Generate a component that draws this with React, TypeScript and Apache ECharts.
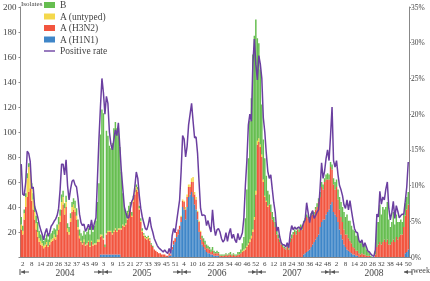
import React, { useEffect, useRef } from "react";
import * as echarts from "echarts";

// Week tick labels (one every 6 weeks, starting at the 2nd week of 2004)
const weekTickLabels = [
  "2", "8", "14", "20", "26", "32", "37", "43", "49",
  "3", "9", "15", "21", "27", "33", "39", "45", "51",
  "4", "10", "16", "22", "28", "34", "40", "46", "52",
  "6", "12", "18", "24", "30", "36", "42", "48",
  "2", "8", "14", "20", "26", "32", "38", "44", "50",
];
const yearLabels = ["2004", "2005", "2006", "2007", "2008"];

// Weekly isolates (2004 week 1 .. 2008 week ~51)
const h1n1 = [
  0,0,0,0,0,0,0,0,0,0, 0,0,0,0,0,0,0,0,0,0, 0,0,0,0,0,0,0,0,0,0, 0,0,0,0,0,0,0,0,0,0, 0,0,0,0,0,0,0,0,0,0, 0,0,0,
  2,2,2,2,2,2,2,2,2,2, 2,2,2,2,
  0,0,0,0,0,0,0,0,0,0, 0,0,0,0,0,0,0,0,0,0, 0,0,0,0,0,0,0,0,0,0, 0,0,
  1,1,6,10,12,16,18,22,
  28,40,38,30,40,48,50,52,48,42, 38,30,20,14,10,8,6,4,3,3, 2,2,1,1,1,1,
  0,0,0,0,0,0,0,0,0,0, 0,0,0,0,0,0,0,0,0,0, 0,0,0,0,0,0,0,0,0,0, 0,0,0,0,0,0,0,0,0,0, 0,0,0,0,0,0,0,0,0,0, 0,0,0,0,0,0,
  2,3,4,5,6,8,10,12,14,16, 18,24,28,30,30,34,36,38,42,44, 36,34,32,28,22,18,14,10,8,6, 5,4,3,2,2,1,1,
  0,0,0,0,0,0,0,0,0,0, 0,0,0,0,0,0,0,0,0,0, 0,0,0,0,0,0,0,0,0,0, 0,
  3,4,6,
];
const h3n2 = [
  22,18,30,40,48,52,55,45,38,30, 22,16,12,10,9,7,8,10,8,10, 12,13,15,14,18,22,28,38,42,34, 40,20,18,28,36,38,36,30,22,15, 12,10,12,9,10,12,8,12,9,10, 10,12,12,
  14,15,12,6,16,18,18,18,16,18, 20,18,20,20,22,25,24,26,30,34, 38,32,44,50,54,52,38,28,20,17, 15,14,15,13,10,8,6,5,4,3, 3,2,2,2,1,1,2,1,2,3, 3,4,4,3,
  4,5,6,8,8,8,6,8,12,8, 8,6,8,6,5,4,4,3,4,3, 2,3,2,2,2,2,1,1,1,1, 2,1,2,2,1,2,1,1,2,2, 3,
  4,5,6,8,10,12,15,20,30,50, 90,92,88,80,60,48,44,40,42,36, 30,28,24,18,15,12,10,8,7,6, 8,6,12,
  15,18,20,18,22,20,24,22,25,26, 28,26,24,25,24,22,24,24,26,24, 28,24,30,28,26,24,30,26,22,20, 24,
  18,16,14,14,12,10,12,10,9,8, 6,5,4,4,3,2,3,2,2,1, 1,1,0,0,0,2,8,10,12,10, 12,14,12,14,10,10,12,14,12,16, 14,16,18,18,24,30,34,36,
];
const untyped = [
  4,3,5,8,15,20,18,10,8,6, 5,4,3,3,2,2,2,2,1,2, 2,2,3,2,3,4,5,6,6,5, 4,3,2,3,4,4,3,3,2,2, 1,1,2,1,1,1,1,1,1,1, 1,2,2,
  2,1,1,0,1,1,1,1,1,1, 1,1,1,
  1,1,1,1,1,1,2,2,1,2, 2,2,2,1,1,
  1,1,1,1,1,1,0,0,0,0, 0,0,0,0,0,0,0,0,0,0, 0,0,0,0,0,0,
  1,1,1,2,2,2,2,3,4,2, 2,1,1,1,
  0,0,0,0,0,0,0,0,0,0, 0,0,0,0,0,0,0,0,0,0, 0,0,0,0,0,0,0,
  1,1,1,1,1,2,2,2,2,3, 3,3,2,2,2,1,1,1,
  0,0,0,0,0,0,0,0,0,0, 0,0,0,0,0,0,0,0,0,0, 0,0,0,0,0,0,0,0,0,0, 0,0,0,0,0,0,0,0,0,0,
  0,0,0,0,0,0,0,0,0,0, 0,0,0,0,0,0,0,0,0,0, 0,0,0,0,0,0,0,0,0,0, 0,0,0,0,0,0,0,0,0,0,
  0,0,0,0,0,0,0,0,0,0, 0,0,0,0,
];
const fluB = [
  6,4,3,3,4,3,2,4,5,5, 6,8,6,5,6,4,5,6,5,6, 5,6,5,6,5,6,5,6,5,4, 5,4,4,4,4,5,6,6,6,5, 6,6,7,8,9,10,9,12,10,14, 18,30,45,
  80,100,100,2,82,76,68,66,72,82, 85,82,80,65,45,25,14,8,6,5, 4,3,3,3,2,2,2,2,2,1, 1,1,1,1,1,1,0,0,0,0, 0,0,0,0,0,0,0,0,0,0, 0,0,0,0,
  0,0,0,0,0,0,0,0,0,0, 0,0,0,0,2,3,3,3,2,2, 2,3,2,1,2,1,1,1,1,1, 1,1,1,2,1,1,1,1,2,2, 3,
  6,10,24,45,68,95,110,140,145,137, 82,76,60,40,32,30,20,12,8,6, 6,4,4,3,3,2,2,2,1,1, 2,1,3,
  3,2,2,3,2,2,2,3,2,2, 2,2,2,2,3,2,2,3,3,4, 4,4,3,4,5,4,4,4,5,6, 6,
  8,10,12,12,14,14,16,14,16,14, 14,14,12,14,10,9,10,7,8,5, 3,2,1,0,0,3,20,18,30,24, 28,24,28,30,20,14,16,22,14,18, 14,12,12,10,10,10,10,10,
];
// Positive rate (%)
const positiveRate = [
  13.0,8.8,8.6,10.5,14.8,14.5,13.4,9.6,9.8,7.0, 6.4,5.6,4.6,3.8,3.2,2.4,3.4,4.0,2.9,3.4, 4.3,4.6,5.0,5.3,5.8,6.8,9.4,13.0,13.0,11.5, 13.6,10.0,8.0,9.5,10.6,10.8,10.1,9.8,8.2,6.0, 4.8,4.4,4.6,3.6,4.0,4.6,3.8,5.2,3.8,4.8, 5.5,11.0,16.5,
  21.0,25.0,23.0,20.0,22.5,21.5,17.5,15.8,15.0,16.5, 17.8,17.0,18.8,15.4,12.0,9.5,7.0,6.2,5.5,5.5, 6.8,7.8,8.2,9.8,11.9,11.0,8.6,6.8,5.6,4.8, 4.0,3.8,4.5,5.6,4.2,3.5,2.6,2.1,1.6,1.3, 1.1,0.9,0.7,1.0,0.7,0.5,1.2,0.5,3.0,4.0, 3.4,5.0,6.5,8.0,
  12.0,17.0,16.5,14.0,15.5,18.5,20.0,21.5,19.0,16.7, 16.8,14.5,10.5,6.8,5.8,5.9,5.8,4.4,5.1,4.2, 3.5,6.6,4.2,3.0,3.8,4.0,3.5,2.6,2.1,2.4, 3.4,2.2,3.3,4.0,2.6,3.2,2.4,2.0,3.3,2.4, 2.8,
  3.4,5.5,10.0,13.5,18.5,20.0,19.0,27.0,30.5,27.0, 24.8,28.2,27.0,25.0,19.5,17.5,14.5,12.0,11.0,11.5, 9.5,7.6,6.2,3.6,4.2,2.8,2.0,1.7,1.7,1.4, 2.0,1.3,3.3,
  4.4,3.8,4.2,3.9,4.1,4.2,3.8,4.2,4.8,5.2, 7.6,6.2,4.8,6.0,6.5,5.4,5.8,6.3,6.6,9.7, 13.2,11.0,12.0,13.8,15.0,13.5,17.0,21.0,13.5,12.6, 13.5,
  11.5,10.0,9.4,8.6,7.3,6.8,8.0,6.6,7.9,6.5, 5.2,4.0,3.5,3.4,2.3,2.0,2.4,1.4,2.0,1.4, 0.8,0.7,0.4,0.2,0.1,1.0,6.0,5.6,9.2,7.4, 8.4,8.0,9.5,10.5,6.8,5.2,6.2,7.8,5.4,7.2, 6.4,5.5,5.8,6.0,6.0,7.8,9.8,13.3,
];

const FONT = "Liberation Serif";
const TXT = "#444";

export default function App() {
  const ref = useRef<HTMLDivElement>(null);
  useEffect(() => {
    if (!ref.current) return;
    const chart = echarts.init(ref.current, null, { renderer: "svg" });
    const n = positiveRate.length;
    const categories = Array.from({ length: n }, (_, i) => "w" + i);

    const yearX = [65, 142, 217, 292, 374];
    const boundaryX = [103, 182, 257, 330];
    const ay = 272;
    const stroke = { stroke: "#555", lineWidth: 1 };
    const fillHead = { fill: "#555" };
    const graphics: any[] = [
      { type: "text", x: 21, y: 0, style: { text: "Isolates", fontSize: 7, fontFamily: FONT, fill: TXT, verticalAlign: "top" } },
      ...yearLabels.map((t, i) => ({
        type: "text", x: yearX[i], y: 273,
        style: { text: t, fontSize: 9.5, fontFamily: FONT, fill: TXT, align: "center", verticalAlign: "middle" },
      })),
      { type: "text", x: 413, y: 270, style: { text: "week", fontSize: 8, fontFamily: FONT, fill: TXT, verticalAlign: "middle" } },
      // start marker
      { type: "line", shape: { x1: 20, y1: ay - 3, x2: 20, y2: ay + 3 }, style: stroke },
      { type: "line", shape: { x1: 21, y1: ay, x2: 29, y2: ay }, style: stroke },
      { type: "polygon", shape: { points: [[21, ay], [25, ay - 2], [25, ay + 2]] }, style: fillHead },
      // end marker
      { type: "line", shape: { x1: 412, y1: ay - 3, x2: 412, y2: ay + 3 }, style: stroke },
      { type: "line", shape: { x1: 404, y1: ay, x2: 412, y2: ay }, style: stroke },
      { type: "polygon", shape: { points: [[404, ay], [408, ay - 2], [408, ay + 2]] }, style: fillHead },
    ];
    boundaryX.forEach((c) => {
      graphics.push(
        { type: "line", shape: { x1: c, y1: ay - 3, x2: c, y2: ay + 3 }, style: stroke },
        { type: "line", shape: { x1: c - 9, y1: ay, x2: c + 9, y2: ay }, style: stroke },
        { type: "polygon", shape: { points: [[c - 1, ay], [c - 5, ay - 2], [c - 5, ay + 2]] }, style: fillHead },
        { type: "polygon", shape: { points: [[c + 1, ay], [c + 5, ay - 2], [c + 5, ay + 2]] }, style: fillHead },
      );
    });

    const barBase = { type: "bar", stack: "total", barCategoryGap: "0%", barGap: "0%", yAxisIndex: 0 };

    chart.setOption({
      animation: false,
      textStyle: { fontFamily: FONT },
      grid: { left: 19, right: 21, top: 7, bottom: 24 },
      legend: {
        orient: "vertical",
        left: 44,
        top: 0,
        padding: 0,
        itemWidth: 11,
        itemHeight: 6,
        itemGap: 1.5,
        textStyle: { fontSize: 9.5, fontFamily: FONT, color: TXT },
        data: [
          { name: "B", icon: "rect" },
          { name: "A (untyped)", icon: "rect" },
          { name: "A (H3N2)", icon: "rect" },
          { name: "A (H1N1)", icon: "rect" },
          { name: "Positive rate", icon: "path://M0,0 L24,0 L24,3 L0,3 Z" },
        ],
      },
      xAxis: {
        type: "category",
        data: categories,
        boundaryGap: true,
        axisLine: { lineStyle: { color: "#888" } },
        axisTick: { show: false },
        axisLabel: {
          interval: (index: number) => index % 6 === 1,
          formatter: (_v: string, index: number) => weekTickLabels[(index - 1) / 6] ?? "",
          fontSize: 7,
          color: TXT,
          margin: 3,
          fontFamily: FONT,
        },
      },
      yAxis: [
        {
          type: "value", min: 0, max: 200, interval: 20,
          splitLine: { show: false },
          axisLine: { show: true, lineStyle: { color: "#888" } },
          axisTick: { show: true, length: 2, lineStyle: { color: "#888" } },
          axisLabel: {
            fontSize: 9, color: TXT, margin: 4, fontFamily: FONT,
            formatter: (v: number) => (v === 0 ? "" : String(v)),
          },
        },
        {
          type: "value", min: 0, max: 35, interval: 5, position: "right",
          splitLine: { show: false },
          axisLine: { show: true, lineStyle: { color: "#888" } },
          axisTick: { show: true, length: 2, lineStyle: { color: "#888" } },
          axisLabel: { fontSize: 7.5, color: TXT, margin: 2, fontFamily: FONT, formatter: "{value}%" },
        },
      ],
      series: [
        { ...barBase, name: "A (H1N1)", data: h1n1, itemStyle: { color: "#3f86c8" } },
        { ...barBase, name: "A (H3N2)", data: h3n2, itemStyle: { color: "#f2553f" } },
        { ...barBase, name: "A (untyped)", data: untyped, itemStyle: { color: "#f4d84c" } },
        { ...barBase, name: "B", data: fluB, itemStyle: { color: "#66be50" } },
        {
          type: "line", name: "Positive rate", yAxisIndex: 1, data: positiveRate,
          symbol: "none", showSymbol: false, z: 5,
          lineStyle: { color: "#6b3fa0", width: 1.5 },
          itemStyle: { color: "#6b3fa0" },
        },
      ],
      graphic: graphics,
    });
    return () => chart.dispose();
  }, []);
  return <div ref={ref} style={{ position: "fixed", left: 0, top: 0, width: 430, height: 281 }} />;
}
